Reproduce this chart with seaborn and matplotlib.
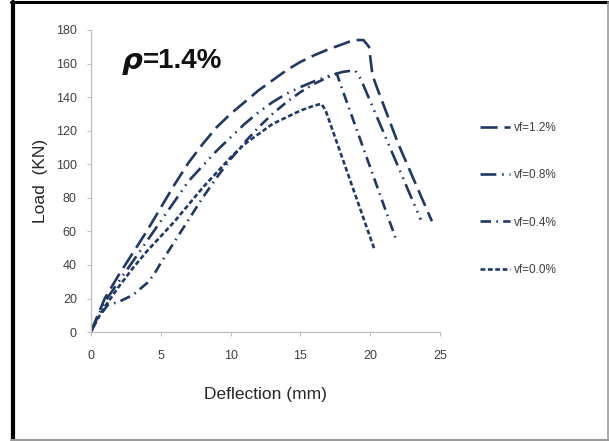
import numpy as np
import pandas as pd
import matplotlib
matplotlib.use("Agg")
import matplotlib.pyplot as plt
from matplotlib.lines import Line2D
import seaborn as sns

# ---- data ----
defl_12 = [0, 0.5, 1, 2, 3, 4, 5, 6, 7, 8, 9, 10, 11, 12, 13, 14, 15, 16, 17, 18, 18.8, 19.5, 19.9, 20.15, 20.5, 22.0, 24.4]
load_12 = [0, 10, 20, 34, 47, 60, 74, 88, 101, 112, 122, 130, 137, 144, 150, 156, 161, 165, 168.5, 171.5, 174, 174, 170, 153, 145, 112, 66]

defl_08 = [0, 0.5, 1, 2, 3, 4, 5, 6, 7, 8, 9, 10, 11, 12, 13, 14, 15, 16, 17, 18, 18.9, 19.3, 23.6]
load_08 = [0, 9, 18, 30, 42, 54, 66, 78, 90, 99, 108, 116, 124, 131, 137, 142, 146, 149.5, 152.5, 155, 156, 151, 67]

defl_04 = [0, 0.5, 1.2, 2, 3, 4, 4.5, 5, 6, 7, 8, 9, 10, 11, 12, 13, 14, 15, 16, 17, 17.6, 17.8, 21.8]
load_04 = [0, 8, 16, 18, 22, 29, 34, 41, 54, 67, 80, 92, 103, 113, 122, 130, 137, 143, 148, 152, 154, 149, 56]

defl_00 = [0, 0.5, 1, 2, 3, 4, 5, 6, 7, 8, 9, 10, 11, 12, 13, 14, 15, 16, 16.5, 16.8, 20.3]
load_00 = [0, 8, 15, 27, 38, 48, 57, 66, 76, 86, 95, 104, 112, 118, 124, 128, 132, 135, 136, 132, 49]

series_names = ["vf=1.2%", "vf=0.8%", "vf=0.4%", "vf=0.0%"]
x_ticks = [0, 5, 10, 15, 20, 25]
y_ticks = [0, 20, 40, 60, 80, 100, 120, 140, 160, 180]

frames = []
for name, xs, ys in zip(series_names,
                        [defl_12, defl_08, defl_04, defl_00],
                        [load_12, load_08, load_04, load_00]):
    frames.append(pd.DataFrame({"Deflection": xs, "Load": ys, "series": name}))
df = pd.concat(frames, ignore_index=True)

dash_map = {
    "vf=1.2%": (6.5, 2.6),
    "vf=0.8%": (6.0, 2.2, 0.6, 2.2, 0.6, 2.2),
    "vf=0.4%": (4.0, 2.0, 0.6, 2.0),
    "vf=0.0%": (1.8, 1.0),
}

sns.set_theme(style="white")
plt.rcParams["font.family"] = ["Liberation Sans", "DejaVu Sans"]

line_color = "#1f3864"
fig = plt.figure(figsize=(6.09, 4.41), dpi=100)
ax = fig.add_axes([0.149, 0.247, 0.574, 0.685])

sns.lineplot(data=df, x="Deflection", y="Load", style="series",
             dashes=dash_map, color=line_color, linewidth=1.9,
             sort=False, estimator=None, units="series", legend=False, ax=ax,
             style_order=series_names)

ax.set_xlim(0, 25)
ax.set_ylim(0, 180)
ax.set_xticks(x_ticks)
ax.set_yticks(y_ticks)

tick_font = ["Liberation Sans Narrow", "Liberation Sans", "DejaVu Sans"]
for lab in ax.get_xticklabels() + ax.get_yticklabels():
    lab.set_family(tick_font)
    lab.set_fontsize(9)
    lab.set_color("#404040")

for s in ["top", "right"]:
    ax.spines[s].set_visible(False)
for s in ["left", "bottom"]:
    ax.spines[s].set_color("#bfbfbf")
    ax.spines[s].set_linewidth(0.9)
ax.tick_params(axis="y", which="major", direction="out", length=3,
               width=0.8, color="#bfbfbf", pad=7, left=True)
ax.tick_params(axis="x", which="major", direction="out", length=3,
               width=0.8, color="#bfbfbf", pad=10, bottom=True)

ax.set_xlabel("Deflection (mm)", fontsize=12.5, color="#262626", labelpad=18)
ax.set_ylabel("Load  (KN)", fontsize=12.5, color="#262626", labelpad=6)

# rho annotation
t1 = ax.text(2.2, 157, "ρ", fontsize=21, fontweight="bold", fontstyle="italic",
             color="#111111", va="baseline", ha="left",
             family=["DejaVu Sans"])
ax.annotate("=1.4%", xy=(1.0, 0.0), xycoords=t1, fontsize=20,
            fontweight="bold", color="#111111", va="baseline", ha="left",
            xytext=(0, 4.8), textcoords="offset points",
            family=["Liberation Sans"])

# legend
handles = [Line2D([0], [0], color=line_color, linewidth=1.9,
                  dashes=dash_map[n]) for n in series_names]
leg = ax.legend(handles, series_names, loc="upper left",
                bbox_to_anchor=(0.770, 0.748), bbox_transform=fig.transFigure,
                frameon=False, handlelength=2.6, handletextpad=0.3,
                labelspacing=3.0, prop={"family": tick_font, "size": 8.5})
for txt in leg.get_texts():
    txt.set_color("#404040")

# figure border (black left/top, grey right/bottom)
fig.add_artist(Line2D([0.021, 0.021], [0.0, 0.996], transform=fig.transFigure,
                      color="black", linewidth=3))
fig.add_artist(Line2D([0.018, 1.0], [0.995, 0.995], transform=fig.transFigure,
                      color="black", linewidth=2.2))
fig.add_artist(Line2D([0.998, 0.998], [0.0, 0.996], transform=fig.transFigure,
                      color="#9a9a9a", linewidth=1.2))
fig.add_artist(Line2D([0.018, 1.0], [0.003, 0.003], transform=fig.transFigure,
                      color="#9a9a9a", linewidth=1.5))

fig.savefig("out.png", dpi=100, facecolor="white")
